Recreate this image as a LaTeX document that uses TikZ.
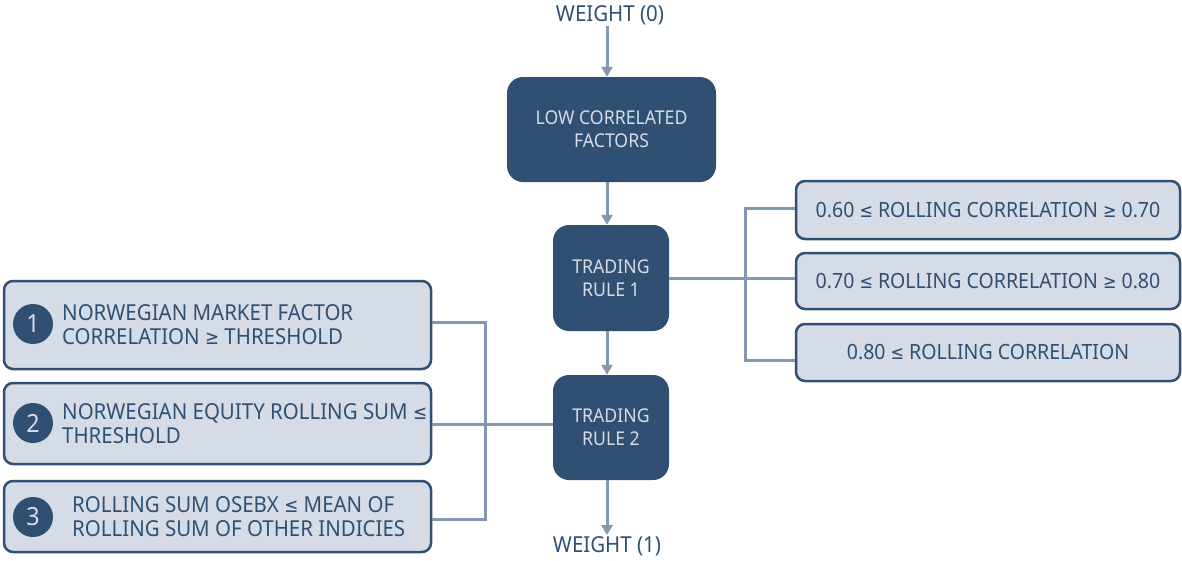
\documentclass[tikz,border=0pt]{standalone}
\usepackage{fontspec}
\setmainfont[FakeStretch=0.93]{Noto Sans}
\newfontfamily\symfont[FakeStretch=0.85,Scale=0.9]{DejaVu Sans}
\newcommand{\myle}{{\symfont ≤}}
\newcommand{\myge}{{\symfont ≥}}
\usetikzlibrary{arrows.meta}
\definecolor{dblue}{HTML}{2F5073}
\definecolor{lfill}{HTML}{D6DCE5}
\definecolor{connc}{HTML}{8497B0}
\begin{document}
\begin{tikzpicture}[x=1pt,y=-1pt,
  dark/.style={fill=dblue, rounded corners=16pt, text=lfill, inner sep=0pt,
    font=\fontsize{19}{23}\selectfont, align=center},
  light/.style={draw=dblue, line width=2.5pt, fill=lfill, rounded corners=9pt, inner sep=0pt},
  conn/.style={draw=connc, line width=3pt},
  arr/.style={conn, -{Triangle[width=11pt,length=10pt]}},
  num/.style={circle, fill=dblue, minimum size=40pt, inner sep=0pt, text=lfill,
    font=\fontsize{25}{25}\selectfont},
  ltext/.style={text=dblue, inner sep=0pt, align=left, font=\fontsize{22}{24}\selectfont},
  rtext/.style={text=dblue, font=\fontsize{21}{24}\selectfont},
  wtext/.style={text=dblue, inner sep=1pt, font=\fontsize{22}{24}\selectfont}]
\useasboundingbox (0,0) rectangle (1182,560);

% main column
\node[wtext] (w0) at (610,15) {WEIGHT (0)};
\node[dark, minimum width=209pt, minimum height=105pt] (lcf) at (611.5,129.5) {LOW CORRELATED\\FACTORS};
\node[dark, minimum width=116pt, minimum height=106pt] (tr1) at (611,278) {TRADING\\RULE 1};
\node[dark, minimum width=116pt, minimum height=105pt] (tr2) at (611,427.5) {TRADING\\RULE 2};
\node[wtext] (w1) at (607,546) {WEIGHT (1)};

\coordinate (ax) at (607,0);
\draw[arr] (w0.south -| ax) -- (lcf.north -| ax);
\draw[arr] (lcf.south -| ax) -- (tr1.north -| ax);
\draw[arr] (tr1.south -| ax) -- (tr2.north -| ax);
\draw[arr] (tr2.south -| ax) -- (w1.north -| ax);

% right boxes
\node[light, rtext, minimum width=384pt, minimum height=58pt] (r1) at (988,210) {0.60 \myle{} ROLLING CORRELATION \myge{} 0.70};
\node[light, rtext, minimum width=384pt, minimum height=56pt] (r2) at (988,281) {0.70 \myle{} ROLLING CORRELATION \myge{} 0.80};
\node[light, rtext, minimum width=384pt, minimum height=57pt] (r3) at (988,352.5) {0.80 \myle{} ROLLING CORRELATION};

\coordinate (rt) at (745,208);
\coordinate (rb) at (745,360);
\draw[conn] (tr1.east) -- (tr1.east -| r2.west);
\draw[conn] (r1.west |- rt) -- (rt) -- (rb) -- (r3.west |- rb);

% left boxes
\node[light, minimum width=427pt, minimum height=88pt] (l1) at (217.5,325) {};
\node[light, minimum width=427pt, minimum height=81pt] (l2) at (217.5,423.5) {};
\node[light, minimum width=427pt, minimum height=71pt] (l3) at (217.5,516.5) {};

\node[num] (n1) at (33,324) {1};
\node[num] (n2) at (33,423) {2};
\node[num] (n3) at (33,517) {3};

\node[ltext, anchor=west] (l1t) at (62,325) {NORWEGIAN MARKET FACTOR\\CORRELATION \myge{} THRESHOLD};
\node[ltext, anchor=west] (l2t) at (62,424) {NORWEGIAN EQUITY ROLLING SUM \myle\\THRESHOLD};
\node[ltext, anchor=west] (l3t) at (72,517) {ROLLING SUM OSEBX \myle{} MEAN OF\\ROLLING SUM OF OTHER INDICIES};

\coordinate (lt) at (485,322);
\coordinate (lm) at (485,424);
\coordinate (lb) at (485,519);
\draw[conn] (l1.east |- lt) -- (lt) -- (lb) -- (l3.east |- lb);
\draw[conn] (l2.east |- lm) -- (tr2.west |- lm);
\end{tikzpicture}
\end{document}
